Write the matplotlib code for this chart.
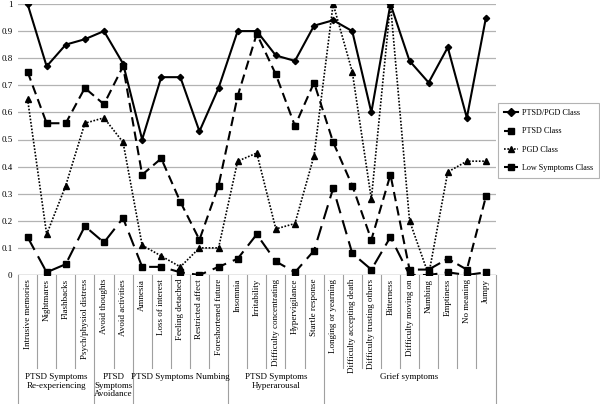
import matplotlib
matplotlib.use("Agg")
import matplotlib.pyplot as plt
from matplotlib.lines import Line2D

plt.rcParams['font.family'] = ['Liberation Serif', 'DejaVu Serif']

categories = ["Intrusive memories", "Nightmares", "Flashbacks", "Psych/physiol distress",
              "Avoid thoughts", "Avoid activities", "Amnesia", "Loss of interest",
              "Feeling detached", "Restricted affect", "Foreshortened future", "Insomnia",
              "Irritability", "Difficulty concentrating", "Hypervigilance", "Startle response",
              "Longing or yearning", "Difficulty accepting death", "Difficulty trusting others",
              "Bitterness", "Difficulty moving on", "Numbing", "Emptiness", "No meaning", "Jumpy"]

ptsd_pgd = [1.00, 0.77, 0.85, 0.87, 0.90, 0.78, 0.50, 0.73, 0.73, 0.53, 0.69, 0.90, 0.90,
            0.81, 0.79, 0.92, 0.94, 0.90, 0.60, 1.00, 0.79, 0.71, 0.84, 0.58, 0.95]
ptsd = [0.75, 0.56, 0.56, 0.69, 0.63, 0.77, 0.37, 0.43, 0.27, 0.13, 0.33, 0.66, 0.89,
        0.74, 0.55, 0.71, 0.49, 0.33, 0.13, 0.37, 0.02, 0.02, 0.06, 0.02, 0.29]
pgd = [0.65, 0.15, 0.33, 0.56, 0.58, 0.49, 0.11, 0.07, 0.03, 0.10, 0.10, 0.42, 0.45,
       0.17, 0.19, 0.44, 1.00, 0.75, 0.28, 1.00, 0.20, 0.00, 0.38, 0.42, 0.42]
low = [0.14, 0.01, 0.04, 0.18, 0.12, 0.21, 0.03, 0.03, 0.01, 0.00, 0.03, 0.06, 0.15,
       0.05, 0.01, 0.09, 0.32, 0.08, 0.02, 0.14, 0.00, 0.00, 0.01, 0.00, 0.01]

series_names = ["PTSD/PGD Class", "PTSD Class", "PGD Class", "Low Symptoms Class"]

groups = ["PTSD Symptoms\nRe-experiencing", "PTSD\nSymptoms\nAvoidance",
          "PTSD Symptoms Numbing", "PTSD Symptoms\nHyperarousal", "Grief symptoms"]
group_sizes = [4, 2, 5, 5, 9]

fig = plt.figure(figsize=(6.0, 4.04), dpi=100)
ax_h = 271 / 404
ax = fig.add_axes([18 / 600, 1 - 275 / 404, (495.5 - 18) / 600, ax_h])

n = len(categories)
x = [i + 0.5 for i in range(n)]

ax.plot(x, ptsd_pgd, color='black', lw=1.5, ls='-', marker='D', ms=3.2, label=series_names[0], zorder=5)
ax.plot(x, ptsd, color='black', lw=1.5, ls=(0, (4.5, 2.5)), marker='s', ms=5, label=series_names[1], zorder=4)
ax.plot(x, pgd, color='black', lw=1.2, ls=(0, (1, 1)), marker='^', ms=4.5, label=series_names[2], zorder=3)
ax.plot(x, low, color='black', lw=1.5, ls=(0, (7, 3.5)), marker='s', ms=5, label=series_names[3], zorder=4)

ax.set_xlim(0, n)
ax.set_ylim(0, 1)
ax.set_yticks([i / 10 for i in range(11)])
ax.set_yticklabels(["0"] + [f"0.{i}" for i in range(1, 10)] + ["1"], fontsize=6.5)
ax.tick_params(axis='y', length=0, pad=4)
ax.set_xticks([])
for s in ax.spines.values():
    s.set_visible(False)
ax.grid(axis='y', color='#b3b3b3', lw=0.9)
ax.set_axisbelow(True)
ax.axhline(0, color='#8c8c8c', lw=0.9, zorder=1)

trans = ax.get_xaxis_transform()
sep_bottom = -(368 - 275) / 271
grp_bottom = -(404 - 275) / 271
boundaries = [0]
for g in group_sizes:
    boundaries.append(boundaries[-1] + g)
for i in range(n + 1):
    yb = grp_bottom if i in boundaries else sep_bottom
    ax.add_line(Line2D([i, i], [0, yb], transform=trans, color='#a0a0a0', lw=0.8, clip_on=False))

label_top = -(279 - 275) / 271
for xi, lab in zip(x, categories):
    ax.text(xi, label_top, lab, transform=trans, rotation=90, ha='center', va='top', fontsize=6.5)

grp_top = -(373 - 275) / 271
for gi, lab in enumerate(groups):
    cx = (boundaries[gi] + boundaries[gi + 1]) / 2
    ax.text(cx, grp_top, lab, transform=trans, ha='center', va='top', fontsize=6.5,
            linespacing=1.1, multialignment='center')

leg = fig.legend(loc='upper left', bbox_to_anchor=(498 / 600, 1 - 103 / 404),
                 fontsize=5.9, frameon=True, fancybox=False, edgecolor='#a0a0a0',
                 handlelength=1.7, labelspacing=1.25, borderpad=0.75, borderaxespad=0,
                 handletextpad=0.5)
leg.get_frame().set_linewidth(0.8)
for h in leg.legend_handles:
    h.set_markersize(4)

fig.savefig("out.png", dpi=100)
